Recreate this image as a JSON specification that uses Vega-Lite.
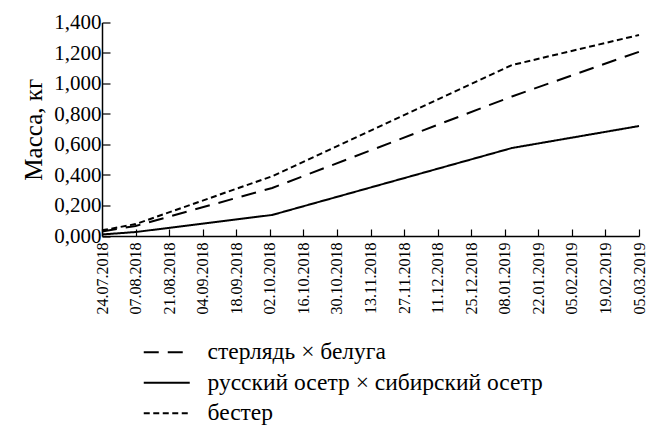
{
  "$schema": "https://vega.github.io/schema/vega-lite/v6.json",
  "autosize": "none",
  "width": 537,
  "height": 213.5,
  "padding": {"left": 102, "top": 22.5, "right": 10, "bottom": 192},
  "background": "white",
  "config": {
    "view": {"stroke": null},
    "font": "Liberation Serif",
    "axis": {"domainColor": "black", "tickColor": "black", "labelColor": "black", "titleColor": "black", "grid": false, "domainWidth": 1.5, "tickWidth": 1.2, "labelFont": "Liberation Serif", "titleFont": "Liberation Serif", "titleFontWeight": "normal"},
    "legend": {"labelFont": "Liberation Serif"}
  },
  "data": {
    "values": [
      {"date": "2018-07-24", "series": "стерлядь × белуга", "mass": 0.03},
      {"date": "2018-08-07", "series": "стерлядь × белуга", "mass": 0.066},
      {"date": "2018-10-03", "series": "стерлядь × белуга", "mass": 0.315},
      {"date": "2019-01-11", "series": "стерлядь × белуга", "mass": 0.915},
      {"date": "2019-03-05", "series": "стерлядь × белуга", "mass": 1.208},
      {"date": "2018-07-24", "series": "русский осетр × сибирский осетр", "mass": 0.01},
      {"date": "2018-08-07", "series": "русский осетр × сибирский осетр", "mass": 0.026},
      {"date": "2018-10-03", "series": "русский осетр × сибирский осетр", "mass": 0.138},
      {"date": "2019-01-11", "series": "русский осетр × сибирский осетр", "mass": 0.577},
      {"date": "2019-03-05", "series": "русский осетр × сибирский осетр", "mass": 0.721},
      {"date": "2018-07-24", "series": "бестер", "mass": 0.037},
      {"date": "2018-08-07", "series": "бестер", "mass": 0.078},
      {"date": "2018-10-03", "series": "бестер", "mass": 0.392},
      {"date": "2019-01-11", "series": "бестер", "mass": 1.121},
      {"date": "2019-03-05", "series": "бестер", "mass": 1.318}
    ]
  },
  "mark": {"type": "line", "color": "black", "strokeWidth": 2},
  "encoding": {
    "x": {
      "field": "date",
      "type": "temporal",
      "scale": {"type": "utc", "domain": [{"year": 2018, "month": 7, "date": 24, "utc": true}, {"year": 2019, "month": 3, "date": 5, "utc": true}], "nice": false},
      "axis": {
        "title": null,
        "values": [
          {"year": 2018, "month": 7, "date": 24, "utc": true},
          {"year": 2018, "month": 8, "date": 7, "utc": true},
          {"year": 2018, "month": 8, "date": 21, "utc": true},
          {"year": 2018, "month": 9, "date": 4, "utc": true},
          {"year": 2018, "month": 9, "date": 18, "utc": true},
          {"year": 2018, "month": 10, "date": 2, "utc": true},
          {"year": 2018, "month": 10, "date": 16, "utc": true},
          {"year": 2018, "month": 10, "date": 30, "utc": true},
          {"year": 2018, "month": 11, "date": 13, "utc": true},
          {"year": 2018, "month": 11, "date": 27, "utc": true},
          {"year": 2018, "month": 12, "date": 11, "utc": true},
          {"year": 2018, "month": 12, "date": 25, "utc": true},
          {"year": 2019, "month": 1, "date": 8, "utc": true},
          {"year": 2019, "month": 1, "date": 22, "utc": true},
          {"year": 2019, "month": 2, "date": 5, "utc": true},
          {"year": 2019, "month": 2, "date": 19, "utc": true},
          {"year": 2019, "month": 3, "date": 5, "utc": true}
        ],
        "labelExpr": "utcFormat(datum.value, '%d.%m.%Y')",
        "labelAngle": -90,
        "labelAlign": "right",
        "labelBaseline": "middle",
        "labelFontSize": 16,
        "labelPadding": 13,
        "tickSize": -7,
        "labelOverlap": false,
        "labelFlush": false,
        "labelBound": false
      }
    },
    "y": {
      "field": "mass",
      "type": "quantitative",
      "scale": {"domain": [0, 1.4], "nice": false},
      "axis": {
        "title": "Масса, кг",
        "titleFontSize": 25,
        "titlePadding": 7,
        "values": [0, 0.2, 0.4, 0.6, 0.8, 1.0, 1.2, 1.4],
        "labelExpr": "replace(format(datum.value, '.3f'), '.', ',')",
        "labelFontSize": 21,
        "labelPadding": 9,
        "tickSize": -8,
        "labelFlush": false,
        "labelOverlap": false
      }
    },
    "strokeDash": {
      "field": "series",
      "type": "nominal",
      "scale": {
        "domain": ["стерлядь × белуга", "русский осетр × сибирский осетр", "бестер"],
        "range": [[15, 9], [1, 0], [6, 3.5]]
      },
      "legend": {
        "title": null,
        "orient": "none",
        "legendX": 53,
        "legendY": 318,
        "symbolType": "M-2.3,0H2.3",
        "symbolSize": 400,
        "symbolStrokeWidth": 2,
        "symbolStrokeColor": "black",
        "labelFontSize": 23.5,
        "labelColor": "black",
        "labelOffset": 29,
        "rowPadding": 5.5,
        "labelLimit": 500
      }
    }
  }
}
